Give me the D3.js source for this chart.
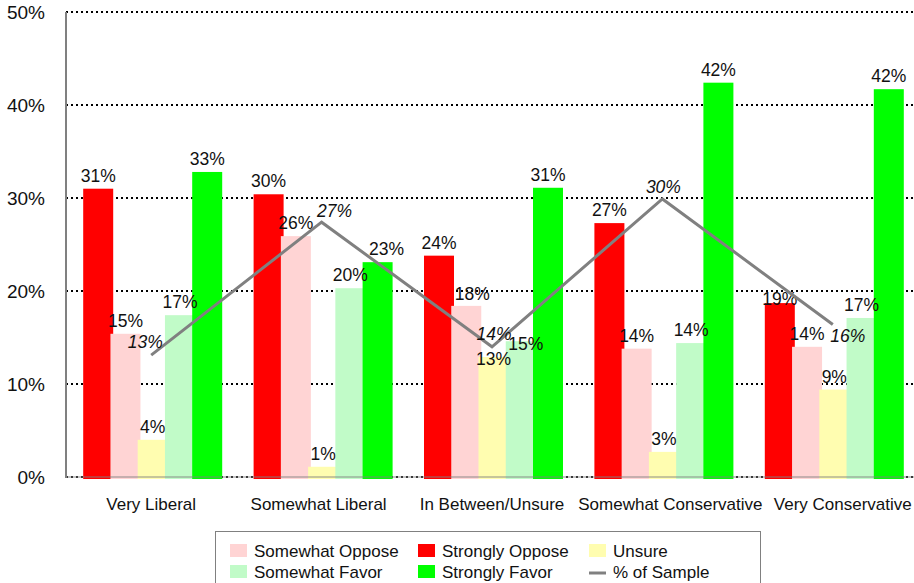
<!DOCTYPE html>
<html lang="en">
<head>
<meta charset="utf-8">
<title>Opinion by ideology</title>
<script src="https://d3js.org/d3.v7.min.js"></script>
<style>
  body { margin: 0; background: #fff; }
  svg { display: block; font-family: Arial, "Liberation Sans", sans-serif; }
  .grid line { stroke: #000; stroke-width: 2; stroke-dasharray: 2,3; }
  .barlabel { font-size: 17.5px; fill: #111; text-anchor: middle; }
  .linelabel { font-size: 17.5px; fill: #111; text-anchor: middle; font-style: italic; }
  .ytick { font-size: 19px; fill: #111; text-anchor: end; }
  .xtick { font-size: 17px; fill: #111; text-anchor: middle; }
  .legend text { font-size: 17px; fill: #111; }
</style>
</head>
<body>
<script>
// data
var categories = ["Very Liberal", "Somewhat Liberal", "In Between/Unsure", "Somewhat Conservative", "Very Conservative"];
var seriesNames = ["Strongly Oppose", "Somewhat Oppose", "Unsure", "Somewhat Favor", "Strongly Favor"];
var stronglyOppose = [31.0, 30.4, 23.8, 27.3, 18.7];
var somewhatOppose = [15.4, 25.9, 18.4, 13.8, 14.0];
var unsure         = [4.0, 1.1, 12.9, 2.7, 9.4];
var somewhatFavor  = [17.4, 20.3, 14.6, 14.4, 17.1];
var stronglyFavor  = [32.8, 23.1, 31.1, 42.4, 41.7];
var pctOfSample    = [13.1, 27.4, 14.0, 29.9, 16.4];
var yTicks = [0, 10, 20, 30, 40, 50];

var colors = {
  "Strongly Oppose": "#ff0000",
  "Somewhat Oppose": "#ffd4d4",
  "Unsure": "#fffdb0",
  "Somewhat Favor": "#c1fbc8",
  "Strongly Favor": "#00ff00"
};

var width = 914, height = 583;
var svg = d3.select("body").append("svg")
    .attr("width", width)
    .attr("height", height);

var x = d3.scaleBand().domain(categories).range([66, 918]).padding(0);
var sub = d3.scalePoint().domain(seriesNames).range([-53, 56]);
var y = d3.scaleLinear().domain([0, 50]).range([477, 12]);
var barW = 30;
var cx = function(c) { return x(c) + x.bandwidth() / 2; };

// gridlines
svg.append("g").attr("class", "grid")
  .selectAll("line")
  .data(yTicks)
  .enter().append("line")
    .attr("x1", 66).attr("x2", width)
    .attr("y1", function(d) { return y(d); })
    .attr("y2", function(d) { return y(d); });

// y tick labels
svg.selectAll(".ytick")
  .data(yTicks)
  .enter().append("text")
    .attr("class", "ytick")
    .attr("x", 45)
    .attr("y", function(d) { return y(d) + 7; })
    .text(function(d) { return d + "%"; });

// bars
var seriesValues = [stronglyOppose, somewhatOppose, unsure, somewhatFavor, stronglyFavor];
var bars = [];
seriesNames.forEach(function(s, si) {
  categories.forEach(function(c, ci) {
    bars.push({ series: s, cat: c, ci: ci, value: seriesValues[si][ci] });
  });
});

svg.append("g").selectAll("rect")
  .data(bars)
  .enter().append("rect")
    .attr("x", function(d) { return cx(d.cat) + sub(d.series) - barW / 2; })
    .attr("y", function(d) { return y(d.value); })
    .attr("width", barW)
    .attr("height", function(d) { return y(0) - y(d.value) + 2; })
    .attr("fill", function(d) { return colors[d.series]; });

// axes lines
svg.append("line")
  .attr("x1", 66).attr("x2", width)
  .attr("y1", y(0)).attr("y2", y(0))
  .attr("stroke", "#808080").attr("stroke-opacity", 0.6).attr("stroke-width", 1.5);
svg.append("line")
  .attr("x1", 66).attr("x2", 66)
  .attr("y1", 12).attr("y2", y(0) + 1)
  .attr("stroke", "#808080").attr("stroke-width", 2);

// bar labels (a few were hand-moved in the original)
var labelNudge = {
  "Somewhat Oppose|In Between/Unsure": [6, 1],
  "Unsure|In Between/Unsure": [0, 15],
  "Somewhat Favor|In Between/Unsure": [5, 16],
  "Strongly Favor|Somewhat Liberal": [9, 0],
  "Strongly Oppose|Very Conservative": [0, 9]
};
svg.append("g").selectAll("text")
  .data(bars)
  .enter().append("text")
    .attr("class", "barlabel")
    .attr("x", function(d) {
      var n = labelNudge[d.series + "|" + d.cat] || [0, 0];
      return cx(d.cat) + sub(d.series) + n[0];
    })
    .attr("y", function(d) {
      var n = labelNudge[d.series + "|" + d.cat] || [0, 0];
      return y(d.value) - 7 + n[1];
    })
    .text(function(d) { return Math.round(d.value) + "%"; });

// % of sample line
var line = d3.line()
  .x(function(d, i) { return cx(categories[i]); })
  .y(function(d) { return y(d); });
svg.append("path")
  .datum(pctOfSample)
  .attr("d", line)
  .attr("fill", "none")
  .attr("stroke", "#808080")
  .attr("stroke-width", 3);

var lineLabelPos = [[-6, -7], [13, -5], [2, -7], [1, -6], [15, 18]];
svg.append("g").selectAll("text")
  .data(pctOfSample)
  .enter().append("text")
    .attr("class", "linelabel")
    .attr("x", function(d, i) { return cx(categories[i]) + lineLabelPos[i][0]; })
    .attr("y", function(d, i) { return y(d) + lineLabelPos[i][1]; })
    .text(function(d) { return Math.round(d) + "%"; });

// category labels
var xNudge = [0, -3, 0, 8, 10];
svg.selectAll(".xtick")
  .data(categories)
  .enter().append("text")
    .attr("class", "xtick")
    .attr("x", function(d, i) { return cx(d) + xNudge[i]; })
    .attr("y", 510)
    .text(function(d) { return d; });

// legend
var legendItems = [
  { name: "Somewhat Oppose", col: 0, row: 0 },
  { name: "Strongly Oppose", col: 1, row: 0 },
  { name: "Unsure", col: 2, row: 0 },
  { name: "Somewhat Favor", col: 0, row: 1 },
  { name: "Strongly Favor", col: 1, row: 1 },
  { name: "% of Sample", col: 2, row: 1, line: true }
];
var lg = svg.append("g").attr("class", "legend");
lg.append("rect")
  .attr("x", 215.5).attr("y", 531.5)
  .attr("width", 545).attr("height", 70)
  .attr("fill", "#fff").attr("stroke", "#808080");
var colX = [230, 418, 589];
var item = lg.selectAll(".item")
  .data(legendItems)
  .enter().append("g")
    .attr("transform", function(d) { return "translate(" + colX[d.col] + "," + (544 + d.row * 21) + ")"; });
item.filter(function(d) { return !d.line; }).append("rect")
  .attr("width", 17).attr("height", 13)
  .attr("fill", function(d) { return colors[d.name]; });
item.filter(function(d) { return d.line; }).append("line")
  .attr("x1", 0).attr("x2", 17).attr("y1", 8).attr("y2", 8)
  .attr("stroke", "#808080").attr("stroke-width", 3);
item.append("text")
  .attr("x", 24).attr("y", 12.5)
  .text(function(d) { return d.name; });
</script>
</body>
</html>
